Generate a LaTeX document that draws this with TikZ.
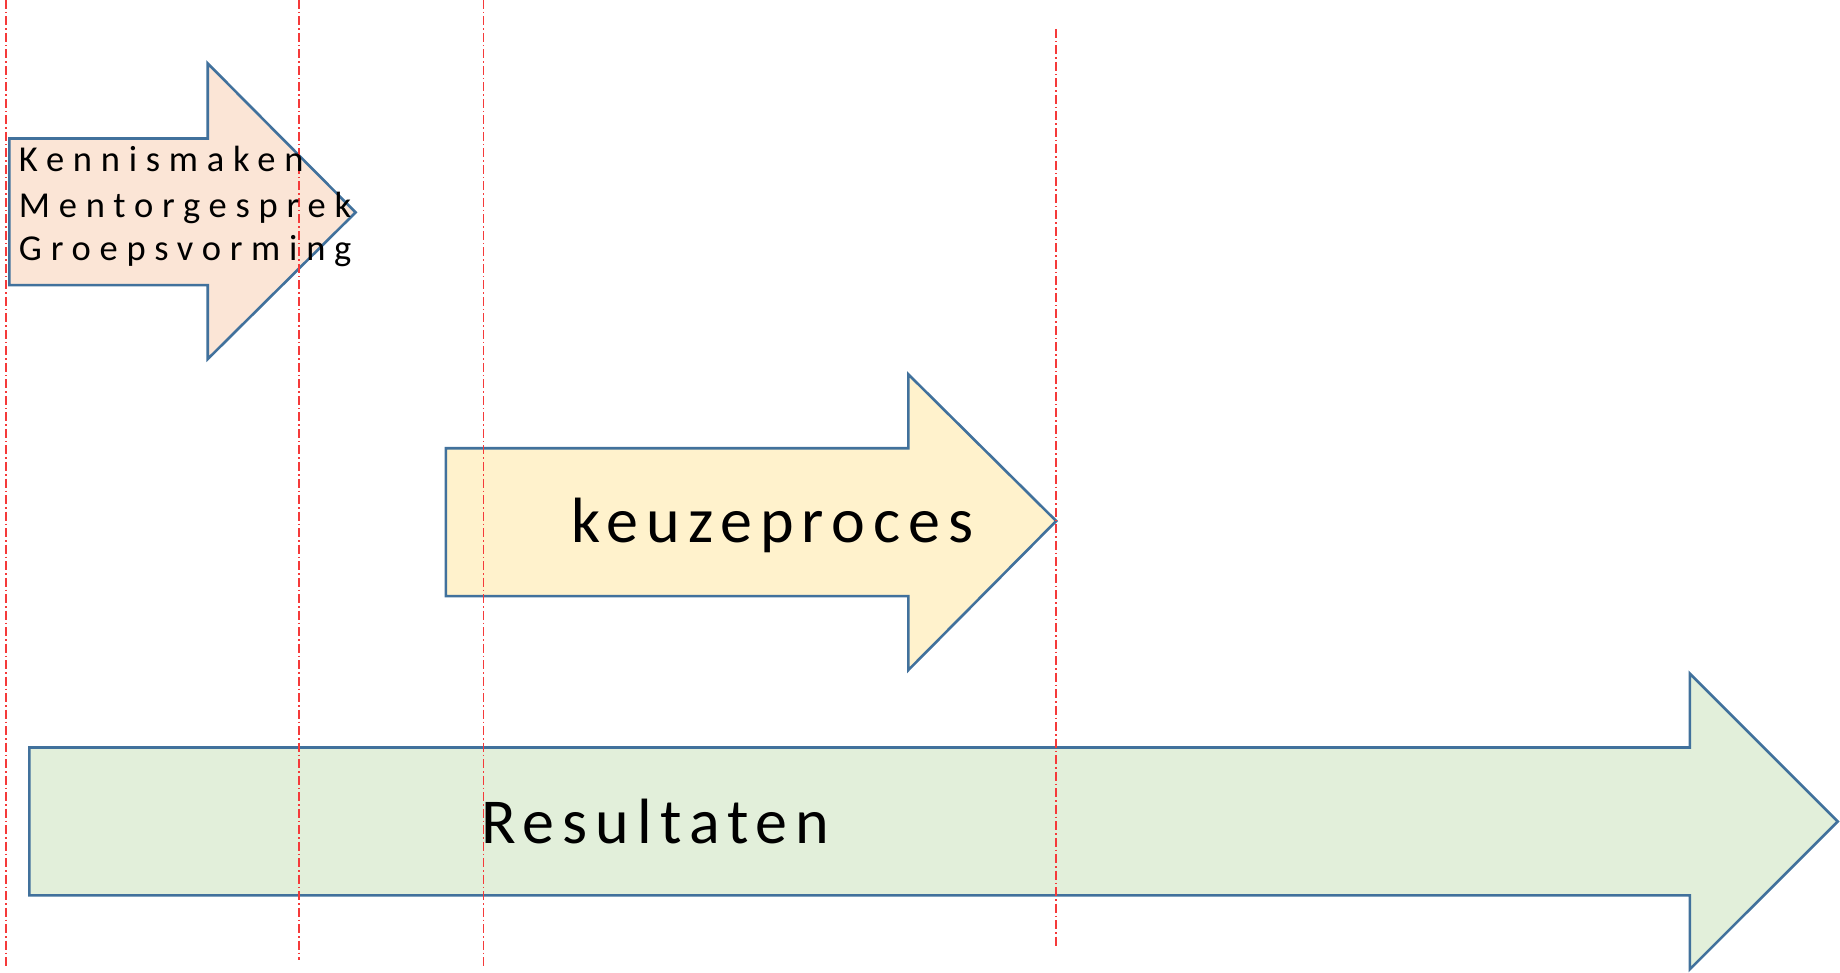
\documentclass[tikz,border=0pt]{standalone}
\usepackage{fontspec}
\setmainfont{Carlito}
\definecolor{edgeblue}{HTML}{41719C}
\definecolor{peach}{HTML}{FBE5D6}
\definecolor{cream}{HTML}{FFF2CC}
\definecolor{mint}{HTML}{E2EFDA}
\definecolor{guide}{HTML}{F53A3A}
\tikzset{
  arrowshape/.style={draw=edgeblue, line width=2.6pt, line join=miter},
  guideline/.style={draw=guide, line width=1.6pt, dash pattern=on 9pt off 3pt on 1.5pt off 3pt},
  smalltxt/.style={inner sep=0pt, anchor=base west, font=\fontsize{36.5}{44}\selectfont\addfontfeature{LetterSpace=24}},
  bigtxt/.style={inner sep=0pt, anchor=base west, font=\fontsize{64}{76}\selectfont\addfontfeature{LetterSpace=12.6}}
}
\begin{document}
\begin{tikzpicture}[x=1pt,y=-1pt]
\useasboundingbox (0,0) rectangle (1840,973);
% arrow 1
\path[arrowshape, fill=peach] (9.4,138.5) -- (207.7,138.5) -- (207.7,63.4) -- (355.6,212.4) -- (207.7,359.1) -- (207.7,285.2) -- (9.4,285.2) -- cycle;
% arrow 2
\path[arrowshape, fill=cream] (445.9,448.3) -- (908.3,448.3) -- (908.3,374.3) -- (1056.2,521) -- (908.3,670.1) -- (908.3,596.1) -- (445.9,596.1) -- cycle;
% arrow 3
\path[arrowshape, fill=mint] (29.3,747.5) -- (1689.8,747.5) -- (1689.8,673.6) -- (1837.7,821.5) -- (1689.8,969.3) -- (1689.8,895.4) -- (29.3,895.4) -- cycle;
% guide lines
\coordinate (g1t) at (5.9,0); \coordinate (g1b) at (5.9,967);
\coordinate (g2t) at (299.2,0); \coordinate (g2b) at (299.2,960);
\coordinate (g3t) at (483.5,0); \coordinate (g3b) at (483.5,966);
\coordinate (g4t) at (1056.2,29); \coordinate (g4b) at (1056.2,948);
\draw[guideline] (g1t) -- (g1b);
\draw[guideline] (g2t) -- (g2b);
\draw[guideline] (g3t) -- (g3b);
\draw[guideline] (g4t) -- (g4b);
% texts
\node[smalltxt] (t1) at (18.8,171.3) {Kennismaken};
\node[smalltxt] (t2) at (18.8,217.5) {Mentorgesprek};
\node[smalltxt] (t3) at (18.8,260.5) {Groepsvorming};
\node[bigtxt] (t4) at (571.5,542) {keuzeproces};
\node[bigtxt] (t5) at (481,843.7) {Resultaten};
\end{tikzpicture}
\end{document}
